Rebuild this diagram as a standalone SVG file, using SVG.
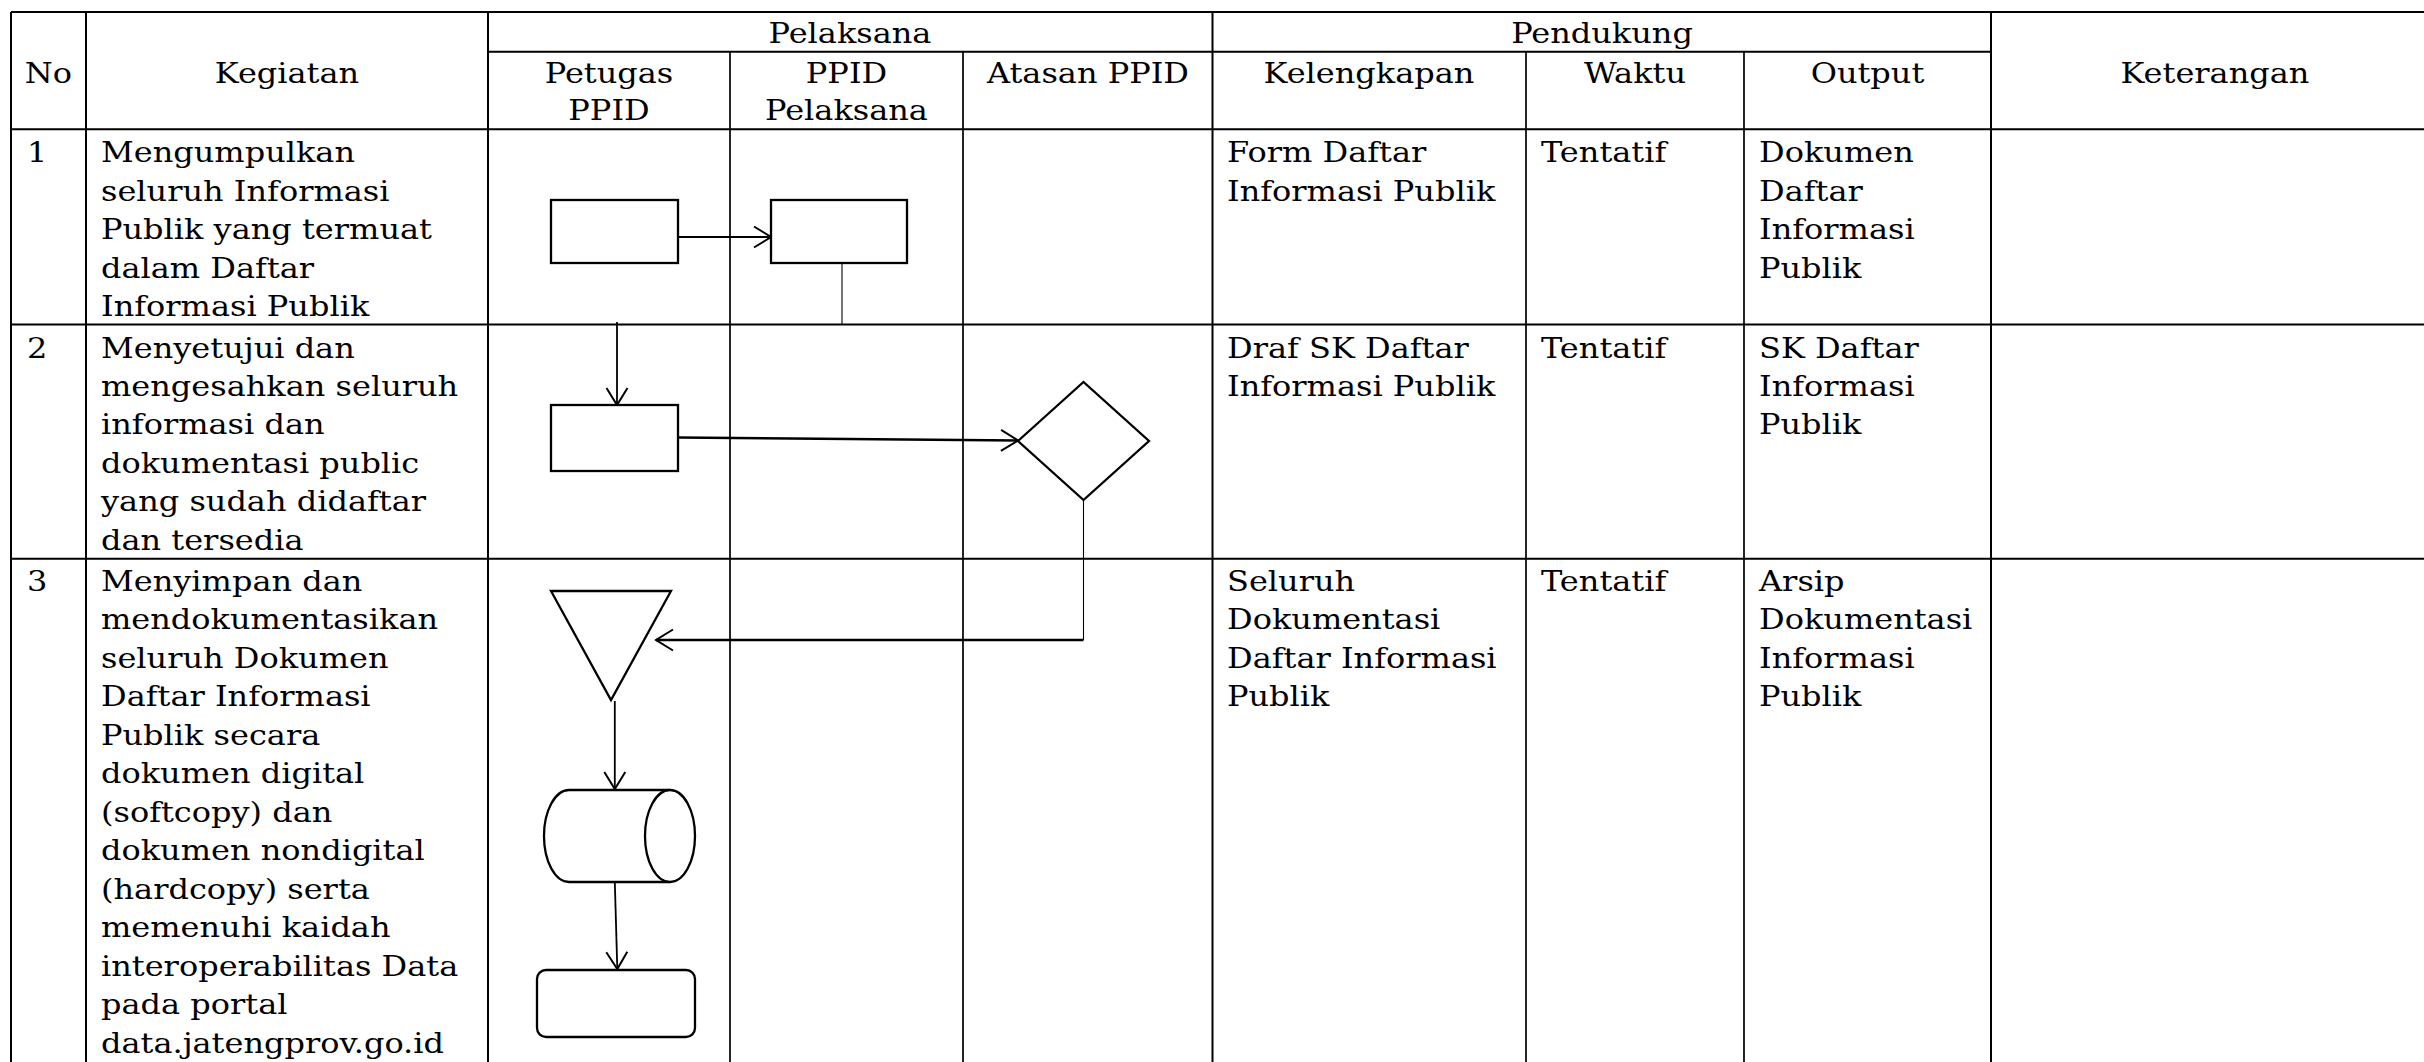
<svg xmlns="http://www.w3.org/2000/svg" width="2424" height="1062" viewBox="0 0 2424 1062">
<style>
.t{font-family:"DejaVu Serif","Liberation Serif",serif;font-size:27px;fill:#000}
.g{stroke:#000;stroke-width:2;fill:none}
.gv{stroke:#000;stroke-width:1.7;fill:none}
.sh{stroke:#000;stroke-width:2.3;fill:#fff}
.c{stroke:#000;stroke-width:1.8;fill:none}
.ct{stroke:#000;stroke-width:1.1;fill:none}
.cb{stroke:#000;stroke-width:2.4;fill:none}
</style>
<defs>
<marker id="ah" viewBox="-20 -13 22 26" refX="0" refY="0" markerWidth="22" markerHeight="26" orient="auto" markerUnits="userSpaceOnUse">
<path d="M-17,-10.5 L0,0 L-17,10.5" fill="none" stroke="#000" stroke-width="2"/>
</marker>
</defs>
<rect width="2424" height="1062" fill="#fff"/>
<g id="table">
<path class="g" d="M11,12 H2440 M488,51.7 H1991 M11,129.3 H2440 M11,324.5 H2440 M11,558.7 H2440"/>
<path class="g" d="M11,12 V1062 M86,12 V1062 M488,12 V1062 M1212.5,12 V1062 M1991,12 V1062"/>
<path class="gv" d="M730,51.7 V1062 M963,51.7 V1062 M1526,51.7 V1062 M1744,51.7 V1062"/>
</g>
<g id="header">
<text class="t" text-anchor="middle" transform="translate(48.5,82.7) scale(1.185,1)">No</text>
<text class="t" text-anchor="middle" transform="translate(287,82.7) scale(1.185,1)">Kegiatan</text>
<text class="t" text-anchor="middle" transform="translate(850,42.7) scale(1.185,1)">Pelaksana</text>
<text class="t" text-anchor="middle" transform="translate(1602,42.7) scale(1.185,1)">Pendukung</text>
<text class="t" text-anchor="middle" transform="translate(609,82.7) scale(1.185,1)"><tspan x="0">Petugas</tspan><tspan x="0" dy="37.3">PPID</tspan></text>
<text class="t" text-anchor="middle" transform="translate(846.5,82.7) scale(1.185,1)"><tspan x="0">PPID</tspan><tspan x="0" dy="37.3">Pelaksana</tspan></text>
<text class="t" text-anchor="middle" transform="translate(1088,82.7) scale(1.185,1)">Atasan PPID</text>
<text class="t" text-anchor="middle" transform="translate(1369,82.7) scale(1.185,1)">Kelengkapan</text>
<text class="t" text-anchor="middle" transform="translate(1635,82.7) scale(1.185,1)">Waktu</text>
<text class="t" text-anchor="middle" transform="translate(1867.5,82.7) scale(1.185,1)">Output</text>
<text class="t" text-anchor="middle" transform="translate(2215,82.7) scale(1.185,1)">Keterangan</text>
</g>
<g id="row1">
<text class="t" transform="translate(27,162.3) scale(1.185,1)">1</text>
<text class="t" transform="translate(101,162.3) scale(1.185,1)"><tspan x="0">Mengumpulkan</tspan><tspan x="0" dy="38.5">seluruh Informasi</tspan><tspan x="0" dy="38.5">Publik yang termuat</tspan><tspan x="0" dy="38.5">dalam Daftar</tspan><tspan x="0" dy="38.5">Informasi Publik</tspan></text>
<text class="t" transform="translate(1227,162.3) scale(1.185,1)"><tspan x="0">Form Daftar</tspan><tspan x="0" dy="38.5">Informasi Publik</tspan></text>
<text class="t" transform="translate(1541,162.3) scale(1.185,1)">Tentatif</text>
<text class="t" transform="translate(1759,162.3) scale(1.185,1)"><tspan x="0">Dokumen</tspan><tspan x="0" dy="38.5">Daftar</tspan><tspan x="0" dy="38.5">Informasi</tspan><tspan x="0" dy="38.5">Publik</tspan></text>
</g>
<g id="row2">
<text class="t" transform="translate(27,357.5) scale(1.185,1)">2</text>
<text class="t" transform="translate(101,357.5) scale(1.185,1)"><tspan x="0">Menyetujui dan</tspan><tspan x="0" dy="38.5">mengesahkan seluruh</tspan><tspan x="0" dy="38.5">informasi dan</tspan><tspan x="0" dy="38.5">dokumentasi public</tspan><tspan x="0" dy="38.5">yang sudah didaftar</tspan><tspan x="0" dy="38.5">dan tersedia</tspan></text>
<text class="t" transform="translate(1227,357.5) scale(1.185,1)"><tspan x="0">Draf SK Daftar</tspan><tspan x="0" dy="38.5">Informasi Publik</tspan></text>
<text class="t" transform="translate(1541,357.5) scale(1.185,1)">Tentatif</text>
<text class="t" transform="translate(1759,357.5) scale(1.185,1)"><tspan x="0">SK Daftar</tspan><tspan x="0" dy="38.5">Informasi</tspan><tspan x="0" dy="38.5">Publik</tspan></text>
</g>
<g id="row3">
<text class="t" transform="translate(27,591) scale(1.185,1)">3</text>
<text class="t" transform="translate(101,591) scale(1.185,1)"><tspan x="0">Menyimpan dan</tspan><tspan x="0" dy="38.5">mendokumentasikan</tspan><tspan x="0" dy="38.5">seluruh Dokumen</tspan><tspan x="0" dy="38.5">Daftar Informasi</tspan><tspan x="0" dy="38.5">Publik secara</tspan><tspan x="0" dy="38.5">dokumen digital</tspan><tspan x="0" dy="38.5">(softcopy) dan</tspan><tspan x="0" dy="38.5">dokumen nondigital</tspan><tspan x="0" dy="38.5">(hardcopy) serta</tspan><tspan x="0" dy="38.5">memenuhi kaidah</tspan><tspan x="0" dy="38.5">interoperabilitas Data</tspan><tspan x="0" dy="38.5">pada portal</tspan><tspan x="0" dy="38.5">data.jatengprov.go.id</tspan></text>
<text class="t" transform="translate(1227,591) scale(1.185,1)"><tspan x="0">Seluruh</tspan><tspan x="0" dy="38.5">Dokumentasi</tspan><tspan x="0" dy="38.5">Daftar Informasi</tspan><tspan x="0" dy="38.5">Publik</tspan></text>
<text class="t" transform="translate(1541,591) scale(1.185,1)">Tentatif</text>
<text class="t" transform="translate(1759,591) scale(1.185,1)"><tspan x="0">Arsip</tspan><tspan x="0" dy="38.5">Dokumentasi</tspan><tspan x="0" dy="38.5">Informasi</tspan><tspan x="0" dy="38.5">Publik</tspan></text>
</g>
<g id="connectors">
<path class="c" d="M678,237 H771" marker-end="url(#ah)"/>
<path class="ct" d="M842,263 V324"/>
<path class="c" d="M617,322 V405" marker-end="url(#ah)"/>
<path class="cb" d="M678,437.5 L1018,440.5" marker-end="url(#ah)"/>
<path class="ct" d="M1083.5,500 V640"/>
<path class="cb" d="M1083.5,640 H656" marker-end="url(#ah)"/>
<path class="c" d="M614.8,701 V789" marker-end="url(#ah)"/>
<path class="c" d="M614.8,882 L617.3,969" marker-end="url(#ah)"/>
</g>
<g id="n1-start"><rect class="sh" x="551" y="200" width="127" height="63"/></g>
<g id="n1-ppid"><rect class="sh" x="771" y="200" width="136" height="63"/></g>
<g id="n2-process"><rect class="sh" x="551" y="405" width="127" height="66"/></g>
<g id="n2-decision"><polygon class="sh" points="1018,441 1083.5,382 1149,441 1083.5,500"/></g>
<g id="n3-merge"><polygon class="sh" points="551,591 671,591 611,700"/></g>
<g id="n3-storage">
<path class="sh" d="M670,790 H569 A25,46 0 0 0 569,882 H670"/>
<ellipse class="sh" cx="670" cy="836" rx="25" ry="46"/>
</g>
<g id="n3-end"><rect class="sh" x="537" y="970" width="158" height="67" rx="9" ry="9"/></g>
</svg>
